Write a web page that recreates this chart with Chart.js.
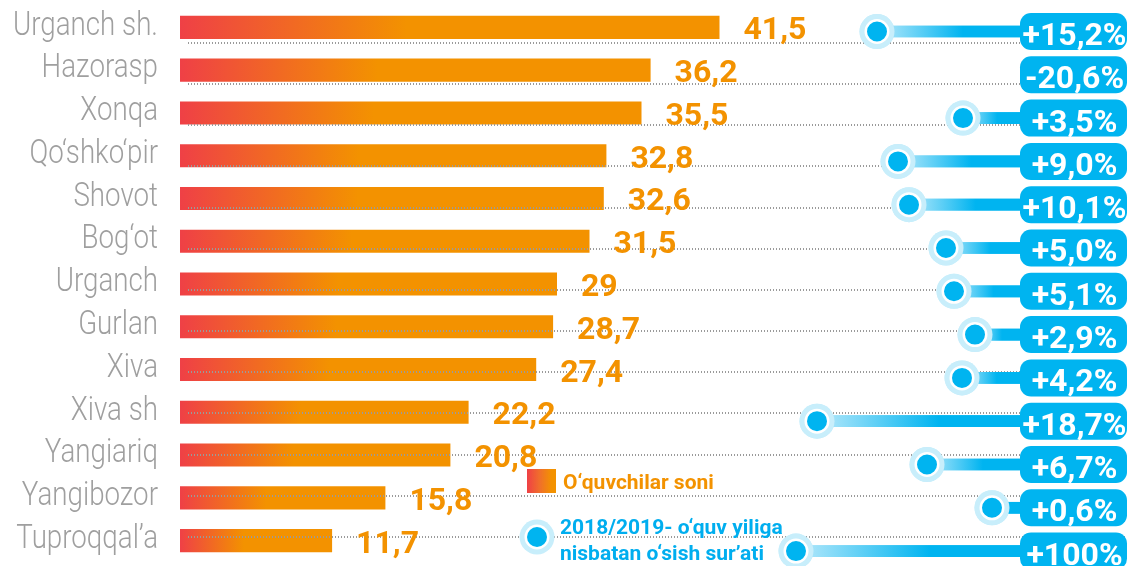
<!DOCTYPE html>
<html><head><meta charset="utf-8">
<script src="https://cdn.jsdelivr.net/npm/chart.js@4.4.1/dist/chart.umd.min.js"></script>
<style>
html,body{margin:0;padding:0;background:#fff;}
#wrap{position:relative;width:1130px;height:566px;overflow:hidden;}
canvas{display:block;}
.lg{position:absolute;font-family:Roboto,sans-serif;font-weight:700;white-space:nowrap;line-height:1;}
</style></head><body>
<div id="wrap">
<canvas id="c" width="1130" height="566"></canvas>
<div style="position:absolute;left:527px;top:469px;width:29px;height:24px;background:linear-gradient(to right,#EF4046 0%,#F0702A 45%,#F39200 85%);"></div>
<div class="lg" style="left:563px;top:472px;font-size:21px;color:#F39200;">O‘quvchilar soni</div>
<svg style="position:absolute;left:515px;top:515px;" width="44" height="44"><circle cx="22" cy="22" r="17.5" fill="#C8EEFB"/><circle cx="22" cy="22" r="12.5" fill="#fff"/><circle cx="22" cy="22" r="10" fill="#00B4F0"/></svg>
<div class="lg" style="left:560px;top:517px;font-size:21px;color:#00AEEF;">2018/2019- o‘quv yiliga</div>
<div class="lg" style="left:560px;top:543px;font-size:21px;color:#00AEEF;">nisbatan o‘sish sur’ati</div>
</div>
<script>
const categories = ['Urganch sh.','Hazorasp','Xonqa','Qo‘shko‘pir','Shovot','Bog‘ot','Urganch','Gurlan','Xiva','Xiva sh','Yangiariq','Yangibozor','Tuproqqal’a'];
const pupils = [41.5,36.2,35.5,32.8,32.6,31.5,29,28.7,27.4,22.2,20.8,15.8,11.7];
const growth = [15.2,-20.6,3.5,9.0,10.1,5.0,5.1,2.9,4.2,18.7,6.7,0.6,100];
const growthLabels = ['+15,2%','-20,6%','+3,5%','+9,0%','+10,1%','+5,0%','+5,1%','+2,9%','+4,2%','+18,7%','+6,7%','+0,6%','+100%'];
// visual stem length of the growth lollipops (no stem for negative growth)
const stemLength = [143,null,57,122,111,74,66,45,58,203,93,28,224];
const gridRows = [0,1,2,3,4,5,6,7,8,9,10,11,12];

const ORANGE = '#F39200', RED = '#EF4046', BLUE = '#00B4F0', LIGHTBLUE = '#B8E9FB', HALO = '#C8EEFB';

const stemData = [], dotData = [];
stemLength.forEach((v, i) => { if (v !== null) { stemData.push({x: [v, 0], y: i}); dotData.push({x: v, y: i}); } });

const fmt = v => String(v).replace('.', ',');
const noPad = (s) => { s.paddingTop = 0; s.paddingBottom = 0; s.paddingLeft = 0; s.paddingRight = 0; };

const condensedLabels = {
  id: 'condensedLabels',
  beforeDraw(chart) {
    const s = chart.scales.y;
    if (s._condensed) return;
    const orig = s.drawLabels.bind(s);
    s._computeLabelArea = () => undefined;
    s.drawLabels = function (area) {
      const ctx = this.ctx, ax = this.right - 22;
      ctx.save();
      ctx.translate(ax, 0); ctx.scale(0.84, 1); ctx.translate(-ax, 0);
      orig(area);
      ctx.restore();
    };
    s._condensed = true;
  }
};

const overlay = {
  id: 'overlay',
  afterDraw(chart) {
    const ctx = chart.ctx;
    // lollipops above the dotted guides
    [1, 2, 3].forEach(i => chart.getDatasetMeta(i).controller.draw());
    // value labels
    const meta = chart.getDatasetMeta(0);
    ctx.save();
    ctx.font = 'bold 32px Roboto';
    ctx.fillStyle = ORANGE;
    ctx.textAlign = 'left';
    ctx.textBaseline = 'alphabetic';
    meta.data.forEach((el, i) => ctx.fillText(fmt(pupils[i]), el.x + 24, el.y + 12));
    // growth pills
    const x2 = chart.scales.x2, y3 = chart.scales.y3;
    const left = x2.getPixelForValue(0), right = chart.chartArea.right;
    growthLabels.forEach((t, i) => {
      const cy = y3.getPixelForValue(i);
      ctx.beginPath();
      ctx.roundRect(left, cy - 18.5, right - left, 37, 11);
      ctx.fillStyle = BLUE;
      ctx.fill();
      ctx.fillStyle = '#fff';
      ctx.textAlign = 'center';
      ctx.fillText(t, (left + right) / 2 + 1, cy + 13.5);
    });
    ctx.restore();
  }
};

new Chart(document.getElementById('c'), {
  type: 'bar',
  data: {
    labels: categories,
    datasets: [
      {
        label: 'O‘quvchilar soni',
        data: pupils,
        indexAxis: 'y',
        grouped: false,
        xAxisID: 'x', yAxisID: 'y',
        barPercentage: 0.54, categoryPercentage: 1,
        clip: false,
        order: 4,
        backgroundColor: (c) => {
          const chart = c.chart;
          if (!chart.chartArea || c.type !== 'data') return ORANGE;
          const xs = chart.scales.x;
          const x0 = xs.getPixelForValue(0), x1 = xs.getPixelForValue(c.raw);
          const g = chart.ctx.createLinearGradient(x0, 0, x0 + (x1 - x0) * 0.42, 0);
          g.addColorStop(0, RED);
          g.addColorStop(1, ORANGE);
          return g;
        }
      },
      {
        label: 'stem',
        data: stemData,
        indexAxis: 'y',
        grouped: false,
        xAxisID: 'x2', yAxisID: 'y3',
        barThickness: 11,
        clip: false,
        order: 3,
        backgroundColor: (c) => {
          const chart = c.chart;
          if (!chart.chartArea || c.type !== 'data') return BLUE;
          const xs = chart.scales.x2;
          const a = xs.getPixelForValue(c.raw.x[0]), b = xs.getPixelForValue(0);
          const g = chart.ctx.createLinearGradient(a, 0, a + (b - a) * 0.6, 0);
          g.addColorStop(0, LIGHTBLUE);
          g.addColorStop(1, BLUE);
          return g;
        }
      },
      {
        type: 'scatter',
        label: 'halo',
        data: dotData,
        xAxisID: 'x2', yAxisID: 'y3',
        pointRadius: 17.5, pointBorderWidth: 0,
        backgroundColor: HALO, borderColor: HALO,
        clip: false,
        order: 2
      },
      {
        type: 'scatter',
        label: '2018/2019- o‘quv yiliga nisbatan o‘sish sur’ati',
        data: dotData,
        xAxisID: 'x2', yAxisID: 'y3',
        pointRadius: 11.25, pointBorderWidth: 2.5,
        backgroundColor: BLUE, borderColor: '#fff',
        clip: false,
        order: 1
      }
    ]
  },
  options: {
    responsive: false,
    animation: false,
    devicePixelRatio: 1,
    layout: { autoPadding: false, padding: { top: 6, bottom: 4, left: 0, right: 3 } },
    plugins: { legend: { display: false }, tooltip: { enabled: false } },
    scales: {
      x: { type: 'linear', axis: 'x', position: 'bottom', display: false, offset: false, grid: { offset: false }, min: 0.615, max: 72.846, afterFit: noPad },
      x2: { type: 'linear', axis: 'x', position: 'top', display: false, offset: false, grid: { offset: false }, reverse: true, min: -107, max: 832, afterFit: noPad },
      y: {
        type: 'category', axis: 'y', position: 'left', weight: 2, offset: true,
        grid: { display: false, drawTicks: false, offset: true },
        border: { display: false },
        ticks: {
          autoSkip: false,
          color: '#9f9f9f', padding: 22, labelOffset: -1,
          font: { family: "Roboto,sans-serif", size: 33, weight: 300 }
        },
        afterFit: (s) => { s.width = 180; noPad(s); }
      },
      y2: {
        type: 'linear', axis: 'y', position: 'left', weight: 1, reverse: true, offset: false,
        min: -0.8991, max: 12.612,
        ticks: { display: false },
        grid: { display: true, color: '#9a9a9a', lineWidth: 2, drawTicks: false, z: 1, offset: false },
        border: { display: false, dash: [1, 2] },
        afterBuildTicks: (s) => { s.ticks = gridRows.map(v => ({ value: v })); },
        afterFit: (s) => { s.width = 8; noPad(s); }
      },
      y3: { type: 'linear', axis: 'y', position: 'right', display: false, offset: false, reverse: true, min: -0.589, max: 12.252, afterFit: noPad }
    }
  },
  plugins: [condensedLabels, overlay]
});
</script>
</body></html>
